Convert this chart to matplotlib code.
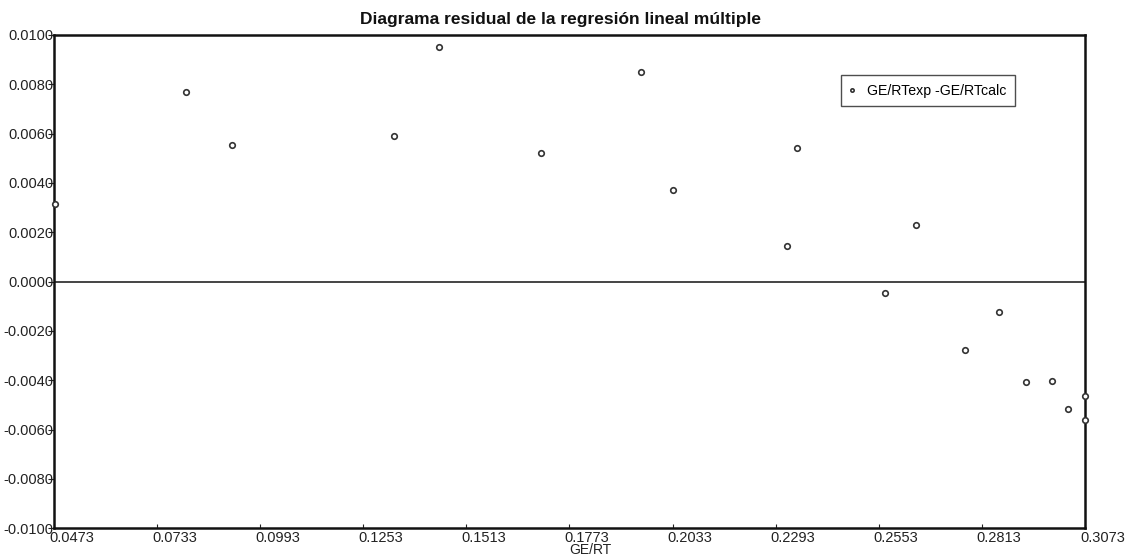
import matplotlib
matplotlib.use("Agg")
import matplotlib.pyplot as plt
import matplotlib.transforms as mtransforms

plt.rcParams['font.family'] = ['Liberation Sans', 'DejaVu Sans']

# residuals
ge_rt = [0.0475, 0.0806, 0.0922, 0.1331, 0.1444, 0.1702, 0.1954, 0.2033,
         0.2348, 0.2321, 0.2646, 0.2569, 0.2855, 0.2770, 0.2924, 0.2991,
         0.3030, 0.3073, 0.3073]
residual = [0.00315, 0.0077, 0.00555, 0.0059, 0.0095, 0.0052, 0.0085, 0.0037,
            0.0054, 0.00143, 0.0023, -0.00044, -0.00122, -0.00277, -0.00405,
            -0.00401, -0.00516, -0.00464, -0.00562]

x_ticks = [0.0473, 0.0733, 0.0993, 0.1253, 0.1513, 0.1773, 0.2033, 0.2293,
           0.2553, 0.2813, 0.3073]
y_ticks = [-0.010, -0.008, -0.006, -0.004, -0.002, 0.0, 0.002, 0.004,
           0.006, 0.008, 0.010]

fig = plt.figure(figsize=(11.29, 5.57), dpi=100)
ax = fig.add_axes([0.0478, 0.0515, 0.9132, 0.8857])

ax.plot(ge_rt, residual, linestyle='none', marker='o', markersize=4.0,
        markerfacecolor='white', markeredgecolor='#333333', markeredgewidth=1.2,
        clip_on=False, label='GE/RTexp -GE/RTcalc', zorder=3)
ax.axhline(0, color='#444444', linewidth=1.4, zorder=2)

ax.set_xlim(x_ticks[0], x_ticks[-1])
ax.set_ylim(y_ticks[0], y_ticks[-1])
ax.set_xticks(x_ticks)
ax.set_xticklabels(['%.4f' % v for v in x_ticks])
ax.set_yticks(y_ticks)
ax.set_yticklabels(['%.4f' % v for v in y_ticks])

ax.tick_params(axis='x', direction='in', length=3, width=0.8, pad=2,
               labelsize=10.5, colors='#222222')
ax.tick_params(axis='y', direction='out', length=4, width=0.8, pad=-3.5,
               labelsize=10.5, colors='#222222')
# x tick labels start just left of the tick
offset = mtransforms.ScaledTranslation(-0.05, 0, fig.dpi_scale_trans)
for lab in ax.get_xticklabels():
    lab.set_horizontalalignment('left')
    lab.set_transform(lab.get_transform() + offset)

for s in ax.spines.values():
    s.set_linewidth(1.8)
    s.set_color('#111111')

ax.set_title('Diagrama residual de la regresión lineal múltiple',
             fontsize=12.5, fontweight='bold', color='#111111', pad=8, x=0.491)
ax.set_xlabel('GE/RT', fontsize=10, color='#222222', va='bottom')
ax.xaxis.set_label_coords(0.52, -0.0582)

leg = ax.legend(loc='upper left', bbox_to_anchor=(0.7635, 0.918),
                fontsize=10.2, frameon=True, fancybox=False, markerscale=0.6,
                handlelength=0.3, handletextpad=0.9, borderpad=0.6,
                borderaxespad=0)
leg.get_frame().set_edgecolor('#222222')
leg.get_frame().set_linewidth(1.0)

fig.savefig('out.png', dpi=100)
